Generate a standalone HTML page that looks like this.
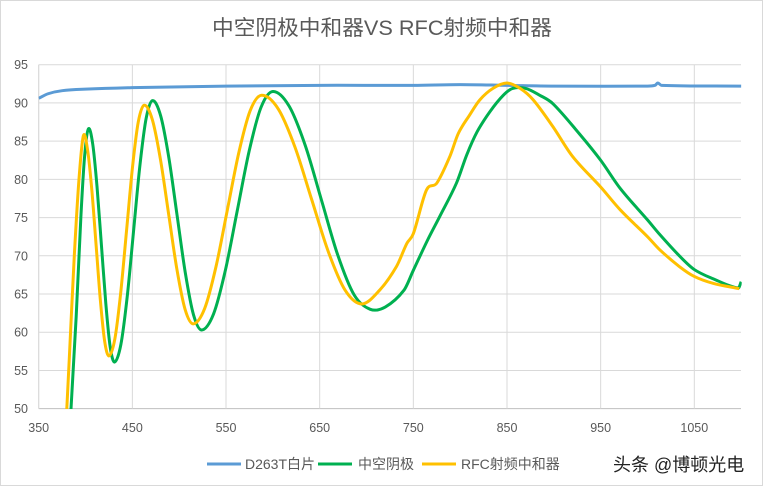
<!DOCTYPE html>
<html><head><meta charset="utf-8"><style>
body{margin:0;background:#fff;}
svg{display:block;font-family:"Liberation Sans","Noto Sans CJK SC",sans-serif;}
</style></head><body>
<svg id="chart" width="766" height="487" viewBox="0 0 766 487">
<rect x="0.5" y="0.5" width="762" height="485" fill="#fff" stroke="#d9d9d9"/>
<text x="212" y="35" textLength="340" lengthAdjust="spacingAndGlyphs" font-size="21" fill="#595959">中空阴极中和器VS RFC射频中和器</text>
<g id="grid"></g>
<g id="axes"></g>
<defs><clipPath id="pc"><rect x="38.7" y="60" width="703" height="349"/></clipPath></defs>
<g id="series" clip-path="url(#pc)"></g>
<g>
<line x1="207" y1="464" x2="241" y2="464" stroke="#5b9bd5" stroke-width="3"/>
<text x="245" y="469" font-size="14" fill="#595959">D263T白片</text>
<line x1="318" y1="464" x2="352" y2="464" stroke="#00b050" stroke-width="3"/>
<text x="358" y="469" font-size="14" fill="#595959">中空阴极</text>
<line x1="422" y1="464" x2="456" y2="464" stroke="#ffc000" stroke-width="3"/>
<text x="461" y="469" font-size="14" fill="#595959">RFC射频中和器</text>
</g>
<text x="613" y="471" font-size="18" fill="#222">头条 @博顿光电</text>
</svg>
<script>
const xTicks=[350,450,550,650,750,850,950,1050];
const yTicks=[50,55,60,65,70,75,80,85,90,95];
const blueX=[350,360,375,400,450,500,550,650,750,800,850,900,1000,1008,1011,1015,1100];
const blueY=[90.6,91.2,91.6,91.8,92.0,92.1,92.2,92.3,92.3,92.4,92.3,92.2,92.2,92.3,92.6,92.3,92.2];
const greenX=[378,384.5,390,395,399,403,407.7,412.3,417,421.7,426.3,431,437.75,444.5,451.25,458,464.75,471.5,480.25,489,497.75,506.5,515.25,524,536.7,549.3,562,574.7,587.3,600,617.3,634.7,652,669.3,686.7,704,720,740,750,765,778,796,807,818,832,846,856,870,885,899,927,950,971,1000,1013,1034,1050,1070,1097,1100];
const greenY=[38,50,62,75,83,86.6,84.6,79.0,71.35,63.7,58.1,56.1,58.4,64.65,73.2,81.75,88.0,90.3,88.3,82.8,75.3,67.8,62.3,60.3,62.4,68.1,75.9,83.7,89.4,91.5,89.6,84.4,77.25,70.1,64.9,63,63.3,65.5,68.1,72,75.1,79.5,83.2,86.2,88.9,91,91.9,91.9,91,89.9,86,82.5,78.8,74.7,72.8,70,68.2,67,65.8,66.6];
const yellowX=[374,380,384,388,393,397.7,402.25,406.8,411.35,415.9,420.45,425,431.27,437.5,443.8,450.07,456.3,462.6,471.33,480.07,488.8,497.53,506.27,515,527.17,539.33,551.5,563.67,575.83,588,605.83,623.67,641.5,659.33,677.17,695,714,732,743,750,764,775,789,798,810,821,835,850,864,878,899,920,950,971,1000,1013,1034,1050,1070,1098];
const yellowY=[38,50,60,70,80,85.7,83.8,78.5,71.3,64.1,58.8,56.9,59.1,65.1,73.3,81.5,87.5,89.7,87.8,82.55,75.4,68.25,63.0,61.1,63.1,68.6,76.05,83.5,89.0,91,89.2,84.2,77.35,70.5,65.5,63.7,65.5,68.6,71.6,72.9,78.6,79.5,83,86,88.4,90.4,91.9,92.6,91.9,90.4,86.9,83,79,76,72.5,70.8,68.6,67.3,66.4,65.7];

const NS="http://www.w3.org/2000/svg";
const X0=38.7,PX=0.9366,Y0=64.7,PY=7.644;
function sx(v){return X0+(v-350)*PX;}
function sy(v){return Y0+(95-v)*PY;}
function mk(tag,attrs,parent){const e=document.createElementNS(NS,tag);for(const k in attrs)e.setAttribute(k,attrs[k]);parent.appendChild(e);return e;}
const grid=document.getElementById('grid'),axes=document.getElementById('axes'),ser=document.getElementById('series');
yTicks.forEach(t=>{
  const l=mk('line',{x1:X0,x2:741,y1:sy(t),y2:sy(t),stroke:t===50?'#bfbfbf':'#d9d9d9','stroke-width':1},grid);
  
  
  const tx=mk('text',{x:28,y:sy(t)+4.5,'text-anchor':'end','font-size':12.5,fill:'#595959'},axes);
  tx.textContent=t;
  
  
});
xTicks.forEach(t=>{
  const l=mk('line',{x1:sx(t),x2:sx(t),y1:Y0,y2:sy(50),stroke:'#d9d9d9','stroke-width':1},grid);
  
  
  const tx=mk('text',{x:sx(t),y:432,'text-anchor':'middle','font-size':12.5,fill:'#595959'},axes);
  tx.textContent=t;
  
  
});
mk('line',{x1:X0,x2:X0,y1:Y0,y2:sy(50),stroke:'#d9d9d9'},grid);
function pathOf(xs,ys){
  const px=xs.map(sx),py=ys.map(sy),n=px.length,m=new Array(n);
  m[0]=(py[1]-py[0])/(px[1]-px[0]);
  m[n-1]=(py[n-1]-py[n-2])/(px[n-1]-px[n-2]);
  for(let i=1;i<n-1;i++)m[i]=(py[i+1]-py[i-1])/(px[i+1]-px[i-1]);
  let s='M'+px[0]+','+py[0];
  for(let i=0;i<n-1;i++){
    const h=(px[i+1]-px[i])/3;
    s+=' C'+(px[i]+h)+','+(py[i]+m[i]*h)+' '+(px[i+1]-h)+','+(py[i+1]-m[i+1]*h)+' '+px[i+1]+','+py[i+1];
  }
  return s;
}
const b=mk('path',{d:pathOf(blueX,blueY),fill:'none',stroke:'#5b9bd5','stroke-width':3},ser);


const g=mk('path',{d:pathOf(greenX,greenY),fill:'none',stroke:'#00b050','stroke-width':3},ser);


const y=mk('path',{d:pathOf(yellowX,yellowY),fill:'none',stroke:'#ffc000','stroke-width':3},ser);


</script>
</body></html>
